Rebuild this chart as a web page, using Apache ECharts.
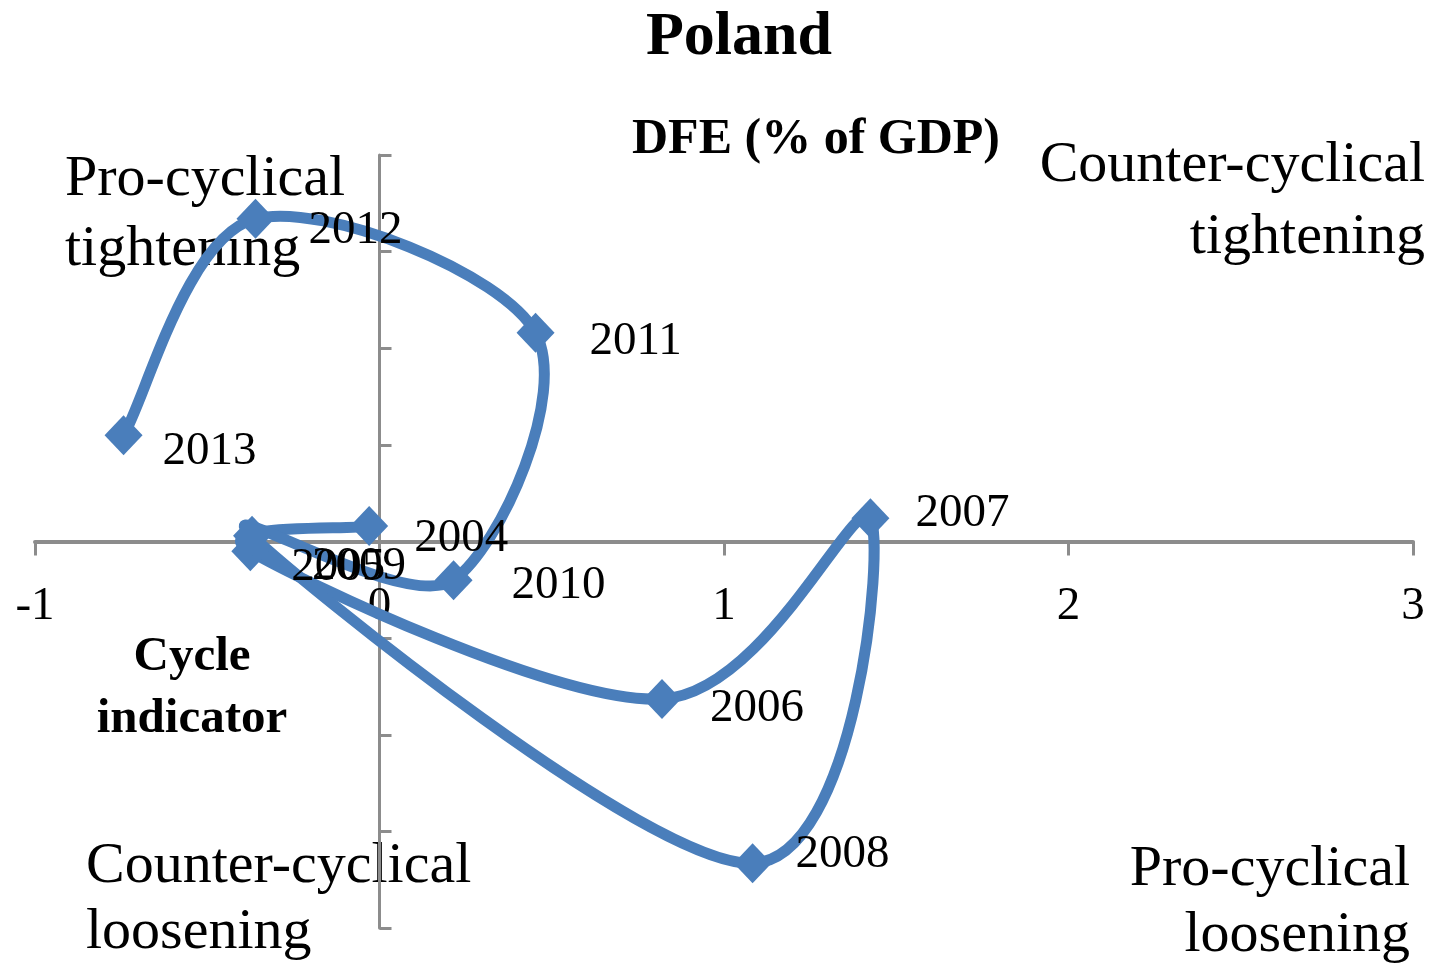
<!DOCTYPE html>
<html>
<head>
<meta charset="utf-8">
<script src="https://cdn.jsdelivr.net/npm/echarts@6/dist/echarts.min.js"></script>
<style>
  html, body { margin: 0; padding: 0; background: #fff; }
  #chart { width: 1434px; height: 964px; }
</style>
</head>
<body>
<div id="chart"></div>
<script>
// years in drawing order
const years = ['2004', '2005', '2006', '2007', '2008', '2009', '2010', '2011', '2012', '2013']
// cycle indicator (x)
const cycle = [-0.03, -0.375, 0.82, 1.425, 1.083, -0.37, 0.215, 0.453, -0.36, -0.743]
// DFE, % of GDP (y)
const dfe = [0.16, -0.10, -1.63, 0.24, -3.33, 0.06, -0.40, 2.16, 3.34, 1.10]
const xTicks = [-1, 0, 1, 2, 3]

const serif = '"Liberation Serif", "Times New Roman", serif'
const blue = '#4a7ebb'
const chart = echarts.init(document.getElementById('chart'))

// labels were nudged by hand in the original
const labelNudge = {
  '2004': [-3, 13], '2005': [-7, 16], '2006': [0, 10], '2007': [-3, -5], '2008': [-5, -9],
  '2009': [12, 31], '2010': [10, 6], '2011': [6, 9], '2012': [5, 12], '2013': [-9, 16]
}

const points = years.map((y, i) => ({
  name: y,
  value: [cycle[i], dfe[i]],
  label: { offset: labelNudge[y] }
}))
const n = years.length

const gridTop = 155
const gridBottom = 36
const gridHeight = 964 - gridTop - gridBottom

// excel-like smoothed line: catmull-rom segments through the points
function renderSegment(params, api) {
  const i = params.dataIndex
  if (i >= n - 1) return null
  const P = j => {
    const k = Math.max(0, Math.min(n - 1, j))
    return api.coord([cycle[k], dfe[k]])
  }
  const p0 = P(i - 1), p1 = P(i), p2 = P(i + 1), p3 = P(i + 2)
  return {
    type: 'bezierCurve',
    shape: {
      x1: p1[0], y1: p1[1],
      x2: p2[0], y2: p2[1],
      cpx1: p1[0] + (p2[0] - p0[0]) / 6,
      cpy1: p1[1] + (p2[1] - p0[1]) / 6,
      cpx2: p2[0] - (p3[0] - p1[0]) / 6,
      cpy2: p2[1] - (p3[1] - p1[1]) / 6
    },
    style: { stroke: blue, lineWidth: 11, fill: 'none', lineCap: 'round' }
  }
}

const option = {
  animation: false,
  grid: { left: 35, right: 21, top: gridTop, bottom: gridBottom, containLabel: false, outerBoundsMode: 'none' },
  xAxis: {
    type: 'value',
    min: xTicks[0],
    max: xTicks[xTicks.length - 1],
    interval: 1,
    // axis sits at y = 0, in the middle of the grid
    offset: -gridHeight / 2,
    splitLine: { show: false },
    axisLine: { onZero: false, lineStyle: { color: '#8c8c8c', width: 4 } },
    axisTick: { show: true, length: 14, lineStyle: { color: '#8c8c8c', width: 3 } },
    axisLabel: {
      margin: 42,
      color: '#000',
      fontFamily: serif,
      fontSize: 47,
      formatter: v => String(v)
    }
  },
  yAxis: {
    type: 'value',
    min: -4,
    max: 4,
    interval: 1,
    splitLine: { show: false },
    axisLine: { onZero: true, lineStyle: { color: '#8c8c8c', width: 3 } },
    axisTick: { show: true, inside: true, length: 12, lineStyle: { color: '#8c8c8c', width: 3 } },
    axisLabel: { show: false }
  },
  series: [
    {
      type: 'custom',
      data: points,
      encode: { x: 0, y: 1 },
      clip: false,
      renderItem: renderSegment,
      z: 2
    },
    {
      type: 'scatter',
      data: points,
      symbol: 'diamond',
      symbolSize: [38, 40],
      itemStyle: { color: blue, opacity: 1 },
      emphasis: { disabled: true },
      z: 3,
      label: {
        show: true,
        position: 'right',
        distance: 29,
        formatter: p => p.name,
        color: '#000',
        fontFamily: serif,
        fontSize: 47
      }
    }
  ],
  graphic: [
    {
      type: 'text', x: 739, y: 38,
      style: { text: 'Poland', font: 'bold 62px ' + serif, fill: '#000', align: 'center', verticalAlign: 'middle' }
    },
    {
      type: 'text', x: 816, y: 140,
      style: { text: 'DFE (% of GDP)', font: 'bold 50px ' + serif, fill: '#000', align: 'center', verticalAlign: 'middle' }
    },
    {
      type: 'text', x: 65, y: 215,
      style: { text: 'Pro-cyclical\ntightening', font: '58px ' + serif, lineHeight: 70, fill: '#000', align: 'left', verticalAlign: 'middle' }
    },
    {
      type: 'text', x: 1425, y: 202,
      style: { text: 'Counter-cyclical\ntightening', font: '58px ' + serif, lineHeight: 72, fill: '#000', align: 'right', verticalAlign: 'middle' }
    },
    {
      type: 'text', x: 192, y: 688,
      style: { text: 'Cycle\nindicator', font: 'bold 49px ' + serif, lineHeight: 62, fill: '#000', align: 'center', verticalAlign: 'middle' }
    },
    {
      type: 'text', x: 86, y: 900,
      style: { text: 'Counter-cyclical\nloosening', font: '58px ' + serif, lineHeight: 66, fill: '#000', align: 'left', verticalAlign: 'middle' }
    },
    {
      type: 'text', x: 1410, y: 903,
      style: { text: 'Pro-cyclical\nloosening', font: '58px ' + serif, lineHeight: 66, fill: '#000', align: 'right', verticalAlign: 'middle' }
    }
  ]
}

chart.setOption(option)
</script>
</body>
</html>
